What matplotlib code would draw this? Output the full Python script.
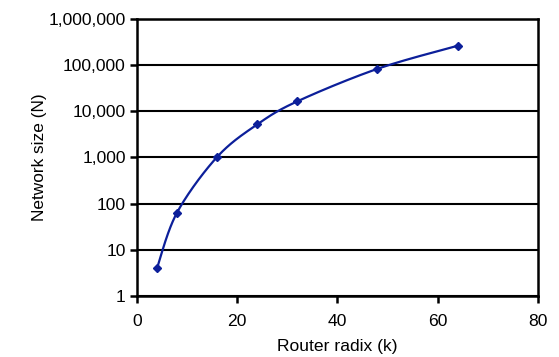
import numpy as np
import matplotlib
matplotlib.use("Agg")
import matplotlib.pyplot as plt
from matplotlib.ticker import FixedLocator, FuncFormatter

plt.rcParams['font.family'] = ['Liberation Sans', 'DejaVu Sans']

radix = [4, 8, 16, 24, 32, 48, 64]
network_size = [4, 64, 1024, 5184, 16384, 82944, 262144]
x_ticks = [0, 20, 40, 60, 80]
y_ticks = [1, 10, 100, 1000, 10000, 100000, 1000000]
color = '#0c1f9a'

fig = plt.figure(figsize=(5.59, 3.57), dpi=100)
ax = fig.add_axes([0.245, 0.171, 0.717, 0.776])

# Excel-style smoothed line (cubic Bezier, tension 1/6) in (x, log10 y) space
px = np.array(radix, dtype=float)
py = np.log10(np.array(network_size, dtype=float))
P = np.column_stack([px, py])
n = len(P)
curve = []
t = np.linspace(0, 1, 60)[:, None]
for i in range(n - 1):
    p0 = P[i]
    p3 = P[i + 1]
    prev = P[i - 1] if i > 0 else P[i]
    nxt = P[i + 2] if i + 2 < n else P[i + 1]
    c1 = p0 + (p3 - prev) / 6.0
    c2 = p3 - (nxt - p0) / 6.0
    seg = ((1 - t) ** 3) * p0 + 3 * ((1 - t) ** 2) * t * c1 + 3 * (1 - t) * t ** 2 * c2 + t ** 3 * p3
    curve.append(seg)
curve = np.vstack(curve)
ax.plot(curve[:, 0], 10 ** curve[:, 1], color=color, lw=1.6, zorder=3)
ax.plot(radix, network_size, linestyle='none', marker='D', ms=4, color=color, zorder=4)

ax.set_yscale('log')
ax.set_xlim(0, 80)
ax.set_ylim(1, 1000000)
ax.xaxis.set_major_locator(FixedLocator(x_ticks))
ax.yaxis.set_major_locator(FixedLocator(y_ticks))
ax.yaxis.set_minor_locator(FixedLocator([]))
ax.yaxis.set_major_formatter(FuncFormatter(lambda v, p: f"{int(round(v)):,}"))
ax.grid(axis='y', color='black', lw=1.5, zorder=1)
for s in ax.spines.values():
    s.set_linewidth(1.8)
    s.set_color('black')
ax.tick_params(axis='both', direction='out', length=5, width=1.8, labelsize=12.6)
ax.tick_params(axis='y', pad=3)
ax.tick_params(axis='x', pad=8)
ax.set_xlabel('Router radix (k)', fontsize=12.6, labelpad=7)
ax.set_ylabel('Network size (N)', fontsize=12.4, labelpad=1)

fig.savefig('out.png', dpi=100)
